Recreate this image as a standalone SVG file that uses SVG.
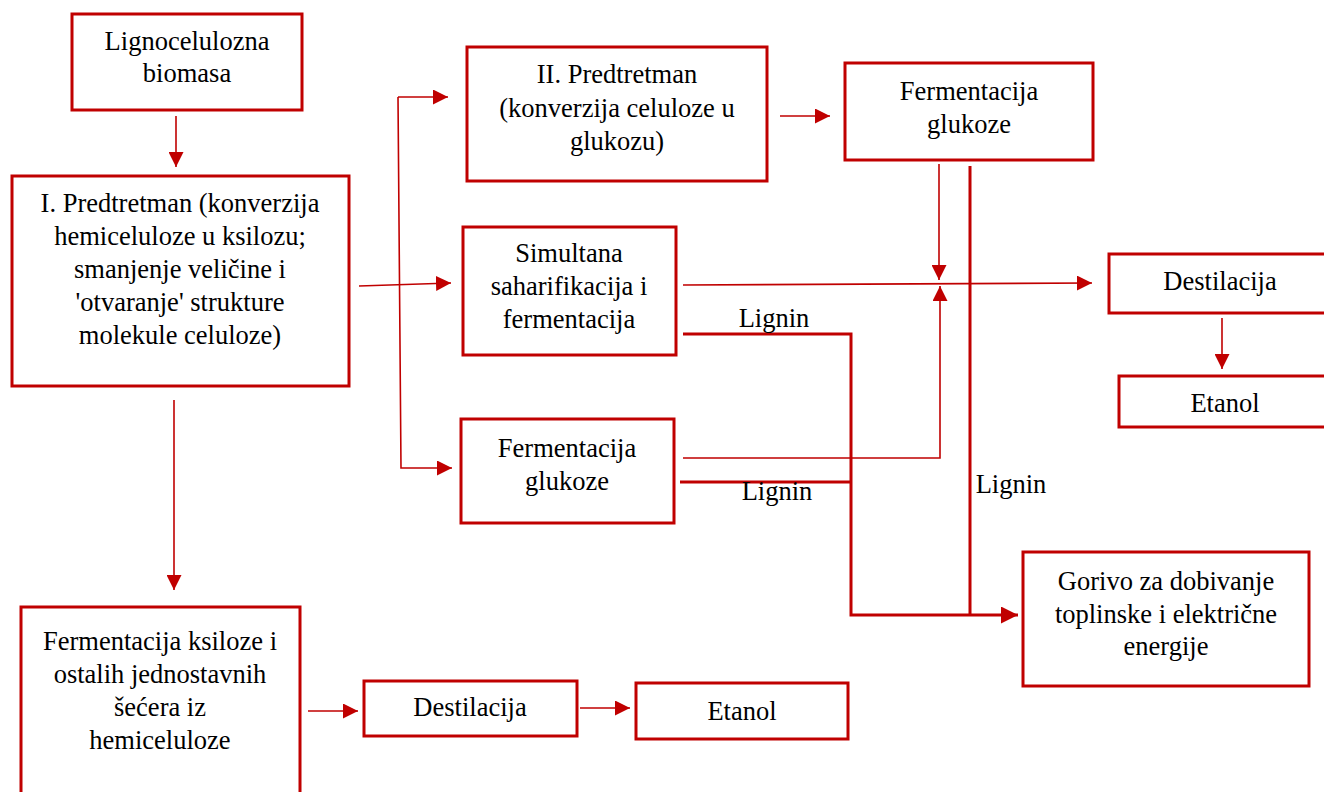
<svg xmlns="http://www.w3.org/2000/svg" width="1324" height="792" viewBox="0 0 1324 792">
<style>
.box{fill:#fff;stroke:#C00000;stroke-width:3}
.t{font-family:"Liberation Serif","Times New Roman",serif;font-size:26.5px;fill:#000;text-anchor:middle}
.c{fill:none;stroke:#C00000;stroke-width:1.6}
.k{fill:none;stroke:#C00000;stroke-width:3}
</style>
<defs>
<marker id="ah" viewBox="0 0 10 10" refX="10" refY="5" markerWidth="15" markerHeight="15" markerUnits="userSpaceOnUse" orient="auto">
<path d="M0,0 L10,5 L0,10 z" fill="#C00000"/>
</marker>
<marker id="ahk" viewBox="0 0 10 10" refX="10" refY="5" markerWidth="17" markerHeight="17" markerUnits="userSpaceOnUse" orient="auto">
<path d="M0,0 L10,5 L0,10 z" fill="#C00000"/>
</marker>
</defs>
<rect width="1324" height="792" fill="#fff"/>
<g id="connectors">
<path class="c" d="M176,116 V167" marker-end="url(#ah)"/>
<path class="c" d="M359,286 L451,283" marker-end="url(#ah)"/>
<path class="c" d="M398,97 H448" marker-end="url(#ah)"/>
<path class="c" d="M398,97 L401,468 H452" marker-end="url(#ah)"/>
<path class="c" d="M780,116 H830" marker-end="url(#ah)"/>
<path class="c" d="M939,164 V280" marker-end="url(#ah)"/>
<path class="c" d="M683,285 L1092,283" marker-end="url(#ah)"/>
<path class="c" d="M683,458 H940 V286" marker-end="url(#ah)"/>
<path class="k" d="M683,334 H851 V615 H1018" marker-end="url(#ahk)"/>
<path class="k" d="M680,482 H851"/>
<path class="k" d="M970,166 V615"/>
<path class="c" d="M1222,318 V369" marker-end="url(#ah)"/>
<path class="c" d="M174,400 V590" marker-end="url(#ah)"/>
<path class="c" d="M308,711 H358" marker-end="url(#ah)"/>
<path class="c" d="M580,708 H630" marker-end="url(#ah)"/>
<text class="t" x="774" y="327">Lignin</text>
<text class="t" x="777" y="500">Lignin</text>
<text class="t" x="1011" y="493">Lignin</text>
</g>
<g id="biomasa">
<rect class="box" x="72" y="14" width="230" height="96"/>
<text class="t" x="187" y="50">Lignocelulozna</text>
<text class="t" x="187" y="82">biomasa</text>
</g>
<g id="predtretman1">
<rect class="box" x="12" y="176" width="337" height="210"/>
<text class="t" x="180" y="212">I. Predtretman (konverzija</text>
<text class="t" x="180" y="245">hemiceluloze u ksilozu;</text>
<text class="t" x="180" y="278">smanjenje veličine i</text>
<text class="t" x="180" y="311">'otvaranje' strukture</text>
<text class="t" x="180" y="344">molekule celuloze)</text>
</g>
<g id="predtretman2">
<rect class="box" x="467" y="47" width="300" height="134"/>
<text class="t" x="617" y="83">II. Predtretman</text>
<text class="t" x="617" y="117">(konverzija celuloze u</text>
<text class="t" x="617" y="150">glukozu)</text>
</g>
<g id="fermentacija-glukoze-1">
<rect class="box" x="845" y="63" width="248" height="97"/>
<text class="t" x="969" y="100">Fermentacija</text>
<text class="t" x="969" y="133">glukoze</text>
</g>
<g id="ssf">
<rect class="box" x="463" y="227" width="213" height="128"/>
<text class="t" x="569" y="262">Simultana</text>
<text class="t" x="569" y="295">saharifikacija i</text>
<text class="t" x="569" y="328">fermentacija</text>
</g>
<g id="fermentacija-glukoze-2">
<rect class="box" x="461" y="419" width="213" height="104"/>
<text class="t" x="567" y="457">Fermentacija</text>
<text class="t" x="567" y="490">glukoze</text>
</g>
<g id="destilacija-1">
<rect class="box" x="1109" y="254" width="222" height="59"/>
<text class="t" x="1220" y="290">Destilacija</text>
</g>
<g id="etanol-1">
<rect class="box" x="1119" y="376" width="212" height="51"/>
<text class="t" x="1225" y="412">Etanol</text>
</g>
<g id="gorivo">
<rect class="box" x="1023" y="552" width="286" height="134"/>
<text class="t" x="1166" y="590">Gorivo za dobivanje</text>
<text class="t" x="1166" y="623">toplinske i električne</text>
<text class="t" x="1166" y="655">energije</text>
</g>
<g id="fermentacija-ksiloze">
<rect class="box" x="21" y="607" width="279" height="200"/>
<text class="t" x="160" y="650">Fermentacija ksiloze i</text>
<text class="t" x="160" y="683">ostalih jednostavnih</text>
<text class="t" x="160" y="716">šećera iz</text>
<text class="t" x="160" y="749">hemiceluloze</text>
</g>
<g id="destilacija-2">
<rect class="box" x="364" y="681" width="213" height="55"/>
<text class="t" x="470" y="716">Destilacija</text>
</g>
<g id="etanol-2">
<rect class="box" x="636" y="683" width="212" height="56"/>
<text class="t" x="742" y="720">Etanol</text>
</g>
</svg>
